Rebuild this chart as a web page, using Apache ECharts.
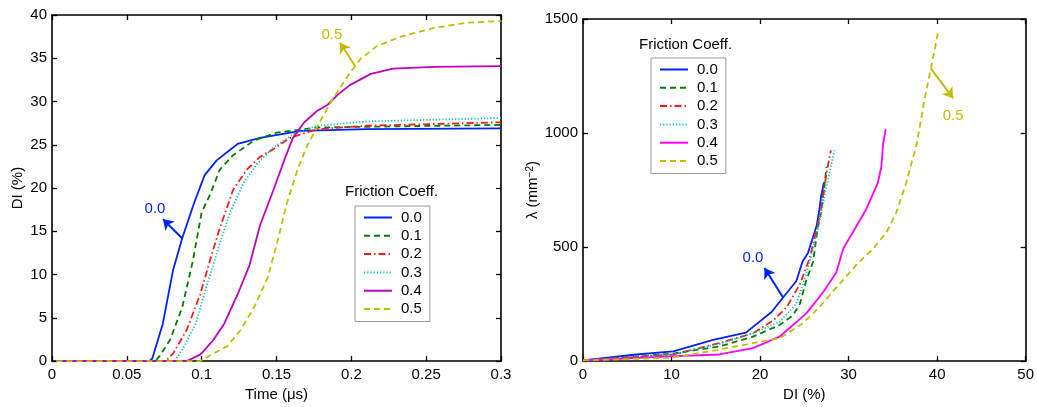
<!DOCTYPE html>
<html>
<head>
<meta charset="utf-8">
<script src="https://cdn.jsdelivr.net/npm/echarts@6/dist/echarts.min.js"></script>
<style>
  html, body { margin: 0; padding: 0; background: #fff; }
  #chart { width: 1037px; height: 407px; }
</style>
</head>
<body>
<div id="chart"></div>
<script>
// friction coefficients (legend entries)
var coeffs = ['0.0', '0.1', '0.2', '0.3', '0.4', '0.5'];

// left panel: DI (%) vs time (us), pairs [t, DI]
var di00 = [[0.003,0],[0.065,0],[0.067,0.3],[0.074,4.3],[0.081,10.6],[0.087,14.2],[0.095,18.3],[0.102,21.5],[0.110,23.2],[0.124,25.1],[0.139,25.8],[0.166,26.6],[0.21,26.8],[0.3,26.9]];
var di01 = [[0.003,0],[0.069,0],[0.072,0.6],[0.079,2.5],[0.087,6.2],[0.094,11.5],[0.100,17.2],[0.106,19.4],[0.112,22.1],[0.121,23.8],[0.135,25.5],[0.150,26.4],[0.177,27.0],[0.3,27.3]];
var di02 = [[0.003,0],[0.076,0],[0.081,0.9],[0.090,3.6],[0.099,7.7],[0.106,11.9],[0.112,15.3],[0.121,19.8],[0.130,22.1],[0.139,23.6],[0.148,24.5],[0.159,25.8],[0.177,26.8],[0.21,27.2],[0.3,27.6]];
var di03 = [[0.003,0],[0.082,0],[0.087,1.3],[0.096,4.3],[0.103,8.5],[0.111,13.0],[0.119,17.2],[0.128,20.6],[0.137,22.8],[0.148,24.7],[0.161,26.2],[0.177,27.2],[0.21,27.7],[0.3,28.1]];
var di04 = [[0.003,0],[0.090,0],[0.099,0.75],[0.102,1.3],[0.108,2.5],[0.115,4.3],[0.124,7.7],[0.132,11.1],[0.139,15.7],[0.148,19.8],[0.156,23.6],[0.161,25.8],[0.168,27.5],[0.177,28.9],[0.184,29.6],[0.191,30.8],[0.199,31.9],[0.213,33.2],[0.228,33.8],[0.255,34.0],[0.3,34.1]];
var di05 = [[0.003,0],[0.099,0],[0.108,0.9],[0.117,1.7],[0.126,3.6],[0.135,6.2],[0.144,9.6],[0.150,13.4],[0.157,18.3],[0.164,22.1],[0.170,24.7],[0.179,27.7],[0.188,30.4],[0.197,32.8],[0.206,34.9],[0.217,36.4],[0.233,37.5],[0.255,38.5],[0.277,39.1],[0.3,39.3]];

// right panel: lambda (mm^-2) vs DI (%), pairs [DI, lambda]
var lam00 = [[0,3],[6,29],[10.2,43],[14.7,93],[18.4,125],[21.3,215],[22.6,279],[24.1,351],[24.8,437],[25.4,473],[26.4,595],[26.7,666],[26.9,723],[27.2,781],[27.3,781]];
var lam01 = [[0,3],[4.1,14],[10.2,33],[15.4,64],[19.2,107],[22.2,158],[23.7,200],[24.5,251],[25.2,351],[26.0,437],[26.5,580],[26.9,652],[27.3,781],[27.5,852]];
var lam02 = [[0,3],[10.2,29],[15.4,79],[19.2,122],[21.5,179],[23.0,236],[24.5,337],[25.6,451],[26.4,580],[26.9,666],[27.5,824],[28.0,924]];
var lam03 = [[0,3],[10.2,29],[15.4,76],[19.2,122],[22.2,172],[24.1,251],[25.2,380],[26.0,494],[26.7,609],[27.5,766],[28.4,924]];
var lam04 = [[0,3],[4.1,10],[9.8,21],[15.4,29],[19.2,57],[22.2,107],[25.2,208],[27.1,301],[28.6,387],[29.4,494],[30.5,566],[32.0,666],[33.3,781],[33.7,852],[33.9,953],[34.2,1017]];
var lam05 = [[0,3],[9.8,14],[15.4,50],[19.2,79],[22.2,100],[24.8,165],[26.7,236],[28.6,322],[30.9,423],[32.8,494],[34.3,566],[35.4,652],[36.5,781],[37.7,953],[38.6,1153],[39.3,1282],[40.1,1440]];

var leftData = [di00, di01, di02, di03, di04, di05];
var rightData = [lam00, lam01, lam02, lam03, lam04, lam05];

// annotations: [text pos, arrow tail, arrow head]
var leftNote00 = [[0.0688, 17.6], [0.0869, 14.2], [0.0742, 16.4]];
var leftNote05 = [[0.187, 37.7], [0.2025, 34.1], [0.1924, 36.8]];
var rightNote00 = [[19.2, 451], [22.6, 279], [20.5, 408]];
var rightNote05 = [[41.8, 1074], [39.3, 1282], [41.8, 1153]];

var leftColors = ['#0022ff', '#007f00', '#ff1a1a', '#00bfbf', '#bf00bf', '#bfbf00'];
var rightColors = ['#0022ff', '#007f00', '#ff1a1a', '#00bfbf', '#ff00ff', '#bfbf00'];
var dashes = ['solid', [6, 4], [7, 3, 1.5, 3], [1.2, 2], 'solid', [6, 4]];

var FONT = 'Liberation Sans, Arial, Helvetica, sans-serif';

function axisPair(gridIndex, min, max, interval, isX, name, nameGap) {
  var base = {
    type: 'value', gridIndex: gridIndex, min: min, max: max, interval: interval,
    axisLine: { show: true, onZero: false, lineStyle: { color: '#000', width: 1.6 } },
    axisTick: { show: true, inside: true, length: 5, lineStyle: { color: '#000', width: 1.3 } },
    splitLine: { show: false }
  };
  var main = Object.assign({}, base, {
    position: isX ? 'bottom' : 'left',
    name: name, nameLocation: 'middle', nameGap: nameGap,
    nameTextStyle: { color: '#000', fontSize: 15, fontFamily: FONT,
      rich: { sup: { fontSize: 10, verticalAlign: 'top', padding: [0, 0, 6, 0], fontFamily: FONT, color: '#000' } } },
    axisLabel: { color: '#000', fontSize: 15, fontFamily: FONT, margin: isX ? 6 : 5,
      formatter: function (v) { return String(v); } }
  });
  var opp = Object.assign({}, base, {
    position: isX ? 'top' : 'right',
    axisLabel: { show: false }
  });
  return [main, opp];
}

function noteSeries(xi, yi, color, note, label) {
  return {
    type: 'line', xAxisIndex: xi, yAxisIndex: yi, data: [], silent: true,
    markLine: {
      silent: true, symbol: ['none', 'arrow'], symbolSize: 10,
      label: { show: false },
      lineStyle: { color: color, width: 2, type: 'solid' },
      itemStyle: { color: color },
      data: [[{ coord: note[1] }, { coord: note[2] }]]
    },
    markPoint: {
      silent: true, symbol: 'circle', symbolSize: 0,
      label: { show: true, position: 'inside', formatter: label, color: color, fontSize: 15, fontFamily: FONT },
      data: [{ coord: note[0] }]
    }
  };
}

var series = [];
coeffs.forEach(function (c, i) {
  series.push({
    name: c, type: 'line', xAxisIndex: 0, yAxisIndex: 0, data: leftData[i],
    showSymbol: false, symbol: 'none', smooth: false,
    lineStyle: { color: leftColors[i], width: 1.8, type: dashes[i] },
    itemStyle: { color: leftColors[i] }
  });
});
coeffs.forEach(function (c, i) {
  series.push({
    name: 'r' + c, type: 'line', xAxisIndex: 2, yAxisIndex: 2, data: rightData[i],
    showSymbol: false, symbol: 'none', smooth: false,
    lineStyle: { color: rightColors[i], width: 1.8, type: dashes[i] },
    itemStyle: { color: rightColors[i] }
  });
});
series.push(noteSeries(0, 0, leftColors[0], leftNote00, '0.0'));
series.push(noteSeries(0, 0, leftColors[5], leftNote05, '0.5'));
series.push(noteSeries(2, 2, rightColors[0], rightNote00, '0.0'));
series.push(noteSeries(2, 2, rightColors[5], rightNote05, '0.5'));

var lx = axisPair(0, 0, 0.3, 0.05, true, 'Time (\u03bcs)', 22);
var ly = axisPair(0, 0, 40, 5, false, 'DI (%)', 27);
var rx = axisPair(1, 0, 50, 10, true, 'DI (%)', 22);
var ry = axisPair(1, 0, 1500, 500, false, '\u03bb (mm{sup|\u22122})', 42);

function legendOf(names, left, top, strip) {
  return {
    orient: 'vertical', left: left, top: top, data: names,
    backgroundColor: '#fff', borderColor: '#999', borderWidth: 1, borderRadius: 0,
    padding: [4, 8, 5, 8], itemWidth: 28, itemHeight: 12, itemGap: 3.3,
    selectedMode: false,
    itemStyle: { opacity: 0 },
    textStyle: { color: '#000', fontSize: 15, fontFamily: FONT, lineHeight: 15, padding: [0, 0, 0, 4] },
    formatter: strip ? function (n) { return n.slice(1); } : '{name}'
  };
}

var chart = echarts.init(document.getElementById('chart'), null, { renderer: 'canvas' });
chart.setOption({
  animation: false,
  backgroundColor: '#fff',
  grid: [
    { left: 52, top: 15, width: 449, height: 353 },
    { left: 583, top: 19, width: 443, height: 349 }
  ],
  xAxis: [lx[0], lx[1], rx[0], rx[1]],
  yAxis: [ly[0], ly[1], ry[0], ry[1]],
  legend: [
    legendOf(coeffs, 355, 206, false),
    legendOf(coeffs.map(function (c) { return 'r' + c; }), 651, 58, true)
  ],
  graphic: [
    { type: 'text', left: 393 - 48, top: 184, style: { text: 'Friction Coeff.', fill: '#000', font: '15px ' + FONT } },
    { type: 'text', left: 687 - 48, top: 37, style: { text: 'Friction Coeff.', fill: '#000', font: '15px ' + FONT } }
  ],
  series: series
});
</script>
</body>
</html>
